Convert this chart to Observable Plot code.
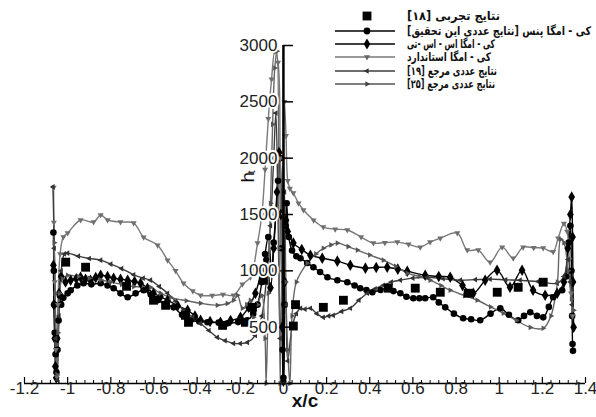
<!DOCTYPE html>
<html><head><meta charset="utf-8">
<script src="https://cdn.jsdelivr.net/npm/d3@7"></script>
<script src="https://cdn.jsdelivr.net/npm/@observablehq/plot@0.6"></script>
<style>
body{margin:0;background:#fff;}
#wrap{position:relative;width:596px;height:417px;overflow:hidden;background:#fff;}
#legend .sym{position:absolute;left:333px;width:70px;height:14px;}
#legend .lab{position:absolute;left:407px;direction:rtl;white-space:nowrap;font-family:"DejaVu Sans",sans-serif;font-weight:bold;font-size:12px;line-height:14px;color:#111;transform-origin:0 50%;}
</style></head><body>
<div id="wrap"><div id="chart"></div><div id="legend"></div></div>
<script>
// ---- tick labels ----
const xTicks = [-1.2,-1,-0.8,-0.6,-0.4,-0.2,0,0.2,0.4,0.6,0.8,1,1.2,1.4];
const yTicks = [500,1000,1500,2000,2500,3000];
const yTickMarks = [0,500,1000,1500,2000,2500,3000];
const xLabel = "x/c";
const yLabel = "h";
const yLabelSub = "t";

// ---- legend labels (series order) ----
const legendLabels = [
  "نتایج تجربی [۱۸]",
  "کی - امگا پنس [نتایج عددی این تحقیق]",
  "کی - امگا اس - اس -تی",
  "کی - امگا استاندارد",
  "نتایج عددی  مرجع [۱۹]",
  "نتایج عددی مرجع [۲۵]"
];

// ---- series: [x/c, h_t] ----
const experiment = [[-1.009,1077],[-0.917,1032],[-0.727,863],[-0.602,739],[-0.546,694],[-0.454,605],[-0.44,543],[-0.282,516],[-0.176,543],[-0.144,676],[-0.093,917],[0.046,510],[0.056,700],[0.185,676],[0.278,739],[0.486,846],[0.611,846],[0.727,810],[0.856,801],[0.991,810],[1.088,854],[1.204,899]];

const pence = [[-1.066,1340],[-1.064,1000],[-1.062,700],[-1.06,450],[-1.056,260],[-1.052,100],[-1.047,300],[-1.042,560],[-1.036,780],[-1.03,700],[-1.02,760],[-1.0,800],[-0.986,828],[-0.955,870],[-0.926,890],[-0.89,880],[-0.847,890],[-0.815,870],[-0.787,846],[-0.755,800],[-0.722,765],[-0.685,800],[-0.648,828],[-0.615,790],[-0.583,739],[-0.545,700],[-0.509,676],[-0.47,610],[-0.43,561],[-0.39,550],[-0.352,543],[-0.3,540],[-0.259,534],[-0.21,545],[-0.167,561],[-0.14,620],[-0.12,700],[-0.1,900],[-0.085,1150],[-0.07,1300],[-0.055,1000],[-0.045,1250],[-0.035,1500],[-0.025,1800],[-0.015,2000],[-0.008,1200],[-0.004,300],[0.0,50],[0.005,700],[0.01,1400],[0.015,1600],[0.025,1300],[0.04,1180],[0.06,1130],[0.079,1112],[0.11,1070],[0.139,1032],[0.17,990],[0.204,943],[0.25,917],[0.296,899],[0.33,870],[0.356,846],[0.385,830],[0.412,810],[0.45,830],[0.481,846],[0.51,820],[0.542,801],[0.57,770],[0.602,757],[0.63,757],[0.657,757],[0.694,765],[0.72,720],[0.75,676],[0.79,620],[0.833,579],[0.87,570],[0.912,561],[0.96,620],[1.005,668],[1.045,610],[1.088,561],[1.115,600],[1.144,632],[1.175,600],[1.204,587],[1.23,680],[1.25,765],[1.292,828],[1.31,950],[1.322,1250],[1.33,1400],[1.335,1000],[1.338,600],[1.34,350],[1.342,290]];

const sst = [[-1.066,1050],[-1.064,700],[-1.06,400],[-1.057,150],[-1.053,50],[-1.048,400],[-1.04,800],[-1.03,950],[-1.01,900],[-0.986,917],[-0.96,930],[-0.94,943],[-0.917,925],[-0.894,917],[-0.87,940],[-0.847,961],[-0.815,950],[-0.787,935],[-0.755,925],[-0.722,917],[-0.69,905],[-0.662,890],[-0.63,845],[-0.602,801],[-0.57,770],[-0.537,739],[-0.49,690],[-0.444,650],[-0.41,600],[-0.384,561],[-0.34,550],[-0.292,543],[-0.245,560],[-0.199,587],[-0.162,676],[-0.13,800],[-0.1,1000],[-0.08,1100],[-0.06,850],[-0.045,1200],[-0.03,1700],[-0.02,2050],[-0.012,1500],[-0.006,500],[0.0,20],[0.006,900],[0.012,1450],[0.02,1350],[0.046,1246],[0.085,1190],[0.125,1139],[0.18,1112],[0.25,1086],[0.31,1050],[0.38,1024],[0.43,1030],[0.481,1032],[0.53,1015],[0.574,997],[0.657,961],[0.72,950],[0.773,943],[0.83,870],[0.88,801],[0.935,917],[0.99,1006],[1.05,854],[1.106,1006],[1.157,828],[1.213,783],[1.269,801],[1.3,900],[1.318,1200],[1.33,1500],[1.336,1655],[1.34,1300],[1.342,900],[1.345,500]];

const standard = [[-1.065,1740],[-1.064,1430],[-1.06,900],[-1.055,300],[-1.05,60],[-1.045,700],[-1.035,1150],[-1.02,1300],[-1.0,1335],[-0.94,1451],[-0.88,1433],[-0.847,1495],[-0.815,1451],[-0.755,1433],[-0.694,1424],[-0.648,1299],[-0.583,1228],[-0.537,1095],[-0.5,1000],[-0.463,890],[-0.42,820],[-0.384,783],[-0.33,780],[-0.28,790],[-0.231,783],[-0.19,880],[-0.153,943],[-0.12,1246],[-0.1,1500],[-0.085,1900],[-0.07,2350],[-0.055,2700],[-0.04,2950],[-0.025,2850],[-0.015,2000],[-0.005,600],[0.0,1500],[0.005,2500],[0.012,2200],[0.02,1800],[0.03,1730],[0.046,1690],[0.07,1600],[0.093,1540],[0.14,1450],[0.185,1388],[0.24,1370],[0.296,1362],[0.36,1300],[0.417,1246],[0.47,1250],[0.528,1255],[0.58,1235],[0.634,1210],[0.68,1255],[0.727,1290],[0.806,1335],[0.852,1184],[0.903,1184],[0.958,1077],[1.014,1210],[1.065,1112],[1.111,1210],[1.16,1205],[1.204,1202],[1.25,1170],[1.273,1290],[1.3,1420],[1.315,1350],[1.325,1100],[1.333,800],[1.34,600]];

const ref19 = [[-1.068,1745],[-1.062,1200],[-1.055,400],[-1.048,30],[-1.04,600],[-1.03,1000],[-1.015,1150],[-1.0,1157],[-0.95,1130],[-0.9,1110],[-0.847,1095],[-0.8,1060],[-0.75,1020],[-0.694,965],[-0.65,935],[-0.616,917],[-0.575,860],[-0.537,801],[-0.5,730],[-0.463,650],[-0.42,590],[-0.384,534],[-0.345,470],[-0.306,409],[-0.27,380],[-0.231,356],[-0.2,355],[-0.167,365],[-0.13,427],[-0.1,600],[-0.08,900],[-0.06,1400],[-0.045,2000],[-0.035,2400],[-0.025,1500],[-0.015,400],[-0.005,1000],[0.005,1700],[0.012,700],[0.02,200],[0.04,500],[0.06,620],[0.079,668],[0.1,660],[0.125,668],[0.155,620],[0.185,587],[0.21,600],[0.231,605],[0.27,640],[0.31,668],[0.35,740],[0.389,801],[0.425,840],[0.463,872],[0.5,900],[0.542,917],[0.6,935],[0.667,943],[0.74,930],[0.82,917],[0.89,922],[0.958,926],[1.03,920],[1.097,917],[1.18,905],[1.269,890],[1.3,950],[1.32,1100],[1.33,900],[1.338,700]];

const ref25 = [[-1.062,1250],[-1.058,800],[-1.054,350],[-1.05,80],[-1.045,450],[-1.038,800],[-1.025,930],[-1.0,960],[-0.95,950],[-0.9,935],[-0.847,920],[-0.8,900],[-0.75,880],[-0.694,860],[-0.616,854],[-0.57,800],[-0.523,765],[-0.45,735],[-0.384,712],[-0.306,694],[-0.26,710],[-0.231,739],[-0.213,783],[-0.19,668],[-0.17,700],[-0.153,739],[-0.139,587],[-0.12,700],[-0.1,780],[-0.085,400],[-0.08,0],[-0.07,800],[-0.06,1600],[-0.05,2300],[-0.04,2800],[-0.03,2950],[-0.02,1200],[-0.015,0],[-0.005,1400],[0.0,2000],[0.01,900],[0.02,300],[0.03,0],[0.04,600],[0.06,900],[0.11,1068],[0.15,1150],[0.185,1200],[0.22,1230],[0.25,1246],[0.3,1215],[0.343,1184],[0.4,1140],[0.463,1095],[0.52,1040],[0.574,979],[0.63,950],[0.68,917],[0.73,870],[0.773,828],[0.84,780],[0.898,739],[0.96,680],[1.019,623],[1.08,560],[1.144,498],[1.204,490],[1.24,600],[1.27,900],[1.285,1280],[1.3,1250],[1.32,1000],[1.335,750],[1.345,650]];

// ---- custom marker shapes ----
function tri(angle) {
  return {draw(ctx, size) {
    const r = Math.sqrt(size / Math.PI) * 1.25;
    for (let k = 0; k < 3; k++) {
      const a = angle + k * 2 * Math.PI / 3;
      const px = r * Math.cos(a), py = r * Math.sin(a);
      if (k === 0) ctx.moveTo(px, py); else ctx.lineTo(px, py);
    }
    ctx.closePath();
  }};
}
const triDown = tri(Math.PI / 2);
const triLeft = tri(Math.PI);
const triRight = tri(0);

const series = [
  {data: pence, stroke: "#000", symbol: "circle", r: 3.3, fill: "#000"},
  {data: sst, stroke: "#000", symbol: "diamond", r: 3.5, fill: "#000"},
  {data: standard, stroke: "#7a7a7a", symbol: triDown, r: 2.8, fill: "#6f6f6f"},
  {data: ref19, stroke: "#3c3c3c", symbol: triLeft, r: 2.6, fill: "#333"},
  {data: ref25, stroke: "#666", symbol: triRight, r: 2.6, fill: "#555"}
];

const fmt = d => { const v = Math.round(d * 10) / 10; return v === 0 ? "0" : String(v); };
const xMinor = d3.range(-1.2, 1.4001, 0.04).filter(v => Math.abs(v / 0.2 - Math.round(v / 0.2)) > 1e-6);

const marks = [];
for (const s of series) {
  marks.push(Plot.line(s.data, {x: d => d[0], y: d => d[1], stroke: s.stroke, strokeWidth: 1.4, curve: "catmull-rom"}));
}
for (const s of series) {
  marks.push(Plot.dot(s.data, {x: d => d[0], y: d => d[1], symbol: s.symbol, r: s.r, fill: s.fill, stroke: "none"}));
}
marks.push(Plot.dot(experiment, {x: d => d[0], y: d => d[1], symbol: "square", r: 5, fill: "#000"}));
// axes
marks.push(Plot.ruleY([0], {stroke: "#000", strokeWidth: 1.5}));
marks.push(Plot.ruleX(xTicks, {x: d => d, y1: 0, y2: 0, insetTop: -6, stroke: "#000", strokeWidth: 1.2}));
marks.push(Plot.ruleX(xMinor, {x: d => d, y1: 0, y2: 0, insetTop: -3, stroke: "#000", strokeWidth: 1}));
marks.push(Plot.ruleX([0], {y1: 0, y2: 3000, stroke: "#000", strokeWidth: 2.5}));
marks.push(Plot.ruleY(yTickMarks, {y: d => d, x1: 0, x2: 0, insetRight: -10, stroke: "#000", strokeWidth: 1.5}));
marks.push(Plot.text(xTicks, {x: d => d, frameAnchor: "bottom", dy: 10, text: fmt, fill: "#222", fontSize: 17}));
marks.push(Plot.text(yTicks, {x: () => 0, y: d => d, dx: -6, textAnchor: "end", text: d => String(d), fill: "#222", stroke: "white", strokeWidth: 4, fontSize: 17}));
marks.push(Plot.text([xLabel], {frameAnchor: "bottom", dy: 23, text: d => d, fontWeight: "bold", fontSize: 19, fill: "#111"}));
marks.push(Plot.text([yLabel], {frameAnchor: "top-left", dx: 216, dy: 137, text: d => d, rotate: -90, fontSize: 19, fill: "#111"}));
marks.push(Plot.text([yLabelSub], {frameAnchor: "top-left", dx: 223, dy: 128, text: d => d, rotate: -90, fontSize: 11, fill: "#111"}));

const chart = Plot.plot({
  width: 596, height: 417,
  marginLeft: 24, marginRight: 11, marginTop: 45, marginBottom: 34,
  x: {domain: [-1.2, 1.4], axis: null},
  y: {domain: [0, 3000], axis: null},
  style: {fontFamily: '"Liberation Sans", Arial, sans-serif', fontSize: "17px", background: "white", color: "black"},
  marks
});
document.getElementById("chart").appendChild(chart);

// ---- legend (HTML overlay inside plot area) ----
const legendSyms = [
  {symbol: d3.symbolSquare, r: 5, fill: "#000", line: null},
  {symbol: d3.symbolCircle, r: 3.4, fill: "#000", line: "#000"},
  {symbol: d3.symbolDiamond, r: 3.4, fill: "#000", line: "#000"},
  {symbol: triDown, r: 2.8, fill: "#666", line: "#777"},
  {symbol: triLeft, r: 2.6, fill: "#333", line: "#3c3c3c"},
  {symbol: triRight, r: 2.6, fill: "#444", line: "#555"}
];
const rowTops = [16, 30.5, 43.5, 57, 70.5, 83.5];
const rowWidths = [93, 184, 88, 84, 90, 88];
const legend = document.getElementById("legend");
legendLabels.forEach((lab, i) => {
  const s = legendSyms[i];
  const top = rowTops[i] - 7;
  const svg = d3.create("svg").attr("class", "sym").attr("width", 70).attr("height", 14).style("top", top + "px");
  if (s.line) svg.append("line").attr("x1", 2).attr("x2", 62).attr("y1", 7).attr("y2", 7).attr("stroke", s.line).attr("stroke-width", 1.3);
  svg.append("path").attr("transform", "translate(34,7)").attr("d", d3.symbol(s.symbol, s.r * s.r * Math.PI)()).attr("fill", s.fill);
  legend.appendChild(svg.node());
  const span = document.createElement("div");
  span.className = "lab";
  span.style.top = top + "px";
  span.textContent = lab;
  legend.appendChild(span);
  const w = span.getBoundingClientRect().width;
  if (w > 0) span.style.transform = `scaleX(${rowWidths[i] / w})`;
});
</script>
</body></html>
